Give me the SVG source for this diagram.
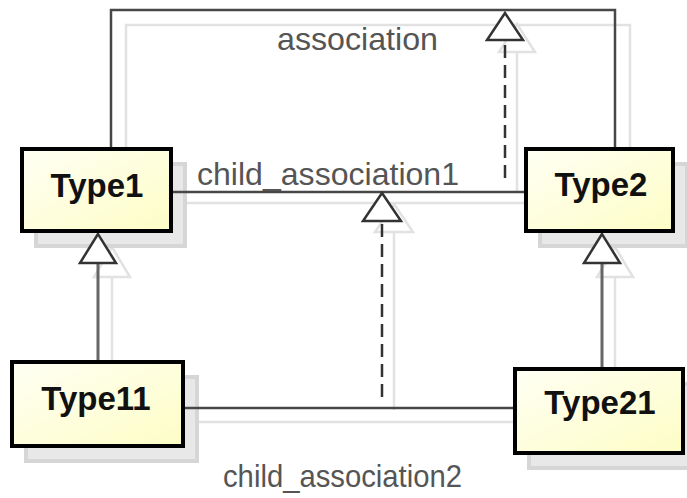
<svg xmlns="http://www.w3.org/2000/svg" width="687" height="498" viewBox="0 0 687 498">
  <style>
    .box { stroke: #000; stroke-width: 4; fill: url(#boxFill); }
    .box-shadow { fill: #e8e8e8; stroke: #d6d6d6; stroke-width: 4; }
    .name { font-family: "Liberation Sans", Arial, sans-serif; font-weight: bold; font-size: 33px; fill: #111; text-anchor: middle; }
    .label { font-family: "Liberation Sans", Arial, sans-serif; font-size: 32px; fill: #555; }
    .line { fill: none; stroke: #474747; stroke-width: 2.5; }
    .gen { fill: none; stroke: #666; stroke-width: 3; }
    .dash { fill: none; stroke: #333; stroke-width: 2.5; stroke-dasharray: 13 7; }
    .head { fill: #fff; stroke: #333; stroke-width: 2.5; stroke-linejoin: miter; }
    .sh { fill: none; stroke: #e2e2e2; stroke-width: 2.5; }
    .sh-head { fill: #fff; stroke: #e2e2e2; stroke-width: 2.5; }
  </style>
  <defs>
    <linearGradient id="boxFill" x1="0" y1="0" x2="1" y2="1">
      <stop offset="0" stop-color="#fffff4"/>
      <stop offset="1" stop-color="#fdfdc6"/>
    </linearGradient>
  </defs>
  <rect width="687" height="498" fill="#fff"/>

  <!-- drop shadows of connectors -->
  <g id="connector-shadows">
    <polyline class="sh" points="126,163 126,25 630,25 630,162"/>
    <line class="sh" x1="186" y1="203" x2="543" y2="203"/>
    <line class="sh" x1="195" y1="422" x2="532" y2="422"/>
    <line class="sh" x1="517" y1="52" x2="517" y2="192"/>
    <polygon class="sh-head" points="517,24 499,52 535,52"/>
    <line class="sh" x1="394" y1="232" x2="394" y2="410"/>
    <polygon class="sh-head" points="394,204 375,232 413,232"/>
    <line class="sh" x1="112" y1="277" x2="112" y2="377"/>
    <polygon class="sh-head" points="112,247 94,277 130,277"/>
    <line class="sh" x1="615" y1="277" x2="615" y2="382"/>
    <polygon class="sh-head" points="615,247 597,277 633,277"/>
  </g>

  <!-- drop shadows of classes -->
  <g id="box-shadows">
    <rect class="box-shadow" x="36" y="164" width="149" height="82"/>
    <rect class="box-shadow" x="540" y="164" width="147" height="82"/>
    <rect class="box-shadow" x="26" y="377" width="171" height="84"/>
    <rect class="box-shadow" x="529" y="384" width="168" height="84"/>
  </g>

  <g id="connectors">
    <!-- association Type1 - Type2 -->
    <polyline class="line" points="111,149 111,10 615,10 615,149"/>
    <!-- child_association1 Type1 - Type2 -->
    <line class="line" x1="171" y1="192" x2="526" y2="192"/>
    <!-- child_association2 Type11 - Type21 -->
    <line class="line" x1="183" y1="408" x2="515" y2="408"/>
    <!-- child_association1 generalizes association -->
    <line class="dash" x1="505" y1="178" x2="505" y2="40"/>
    <polygon class="head" points="505,13 487,40 523,40"/>
    <!-- child_association2 generalizes child_association1 -->
    <line class="dash" x1="382" y1="397" x2="382" y2="221"/>
    <polygon class="head" points="382,193 363,221 401,221"/>
    <!-- Type11 generalizes Type1 -->
    <line class="gen" x1="98" y1="362" x2="98" y2="263"/>
    <polygon class="head" points="98,234 80,263 116,263"/>
    <!-- Type21 generalizes Type2 -->
    <line class="gen" x1="602" y1="369" x2="602" y2="263"/>
    <polygon class="head" points="602,234 584,263 620,263"/>
  </g>

  <g id="connector-labels">
    <text class="label" x="277" y="50" textLength="161" lengthAdjust="spacingAndGlyphs">association</text>
    <text class="label" x="197" y="185" textLength="262" lengthAdjust="spacingAndGlyphs">child_association1</text>
    <text class="label" x="223" y="487" textLength="239" lengthAdjust="spacingAndGlyphs">child_association2</text>
  </g>

  <g id="Type1">
    <rect class="box" x="22" y="149" width="149" height="82"/>
    <text class="name" x="97" y="197">Type1</text>
  </g>
  <g id="Type2">
    <rect class="box" x="526" y="149" width="147" height="82"/>
    <text class="name" x="601" y="196">Type2</text>
  </g>
  <g id="Type11">
    <rect class="box" x="12" y="362" width="171" height="84"/>
    <text class="name" x="96" y="410">Type11</text>
  </g>
  <g id="Type21">
    <rect class="box" x="515" y="369" width="168" height="84"/>
    <text class="name" x="600" y="414">Type21</text>
  </g>
</svg>
